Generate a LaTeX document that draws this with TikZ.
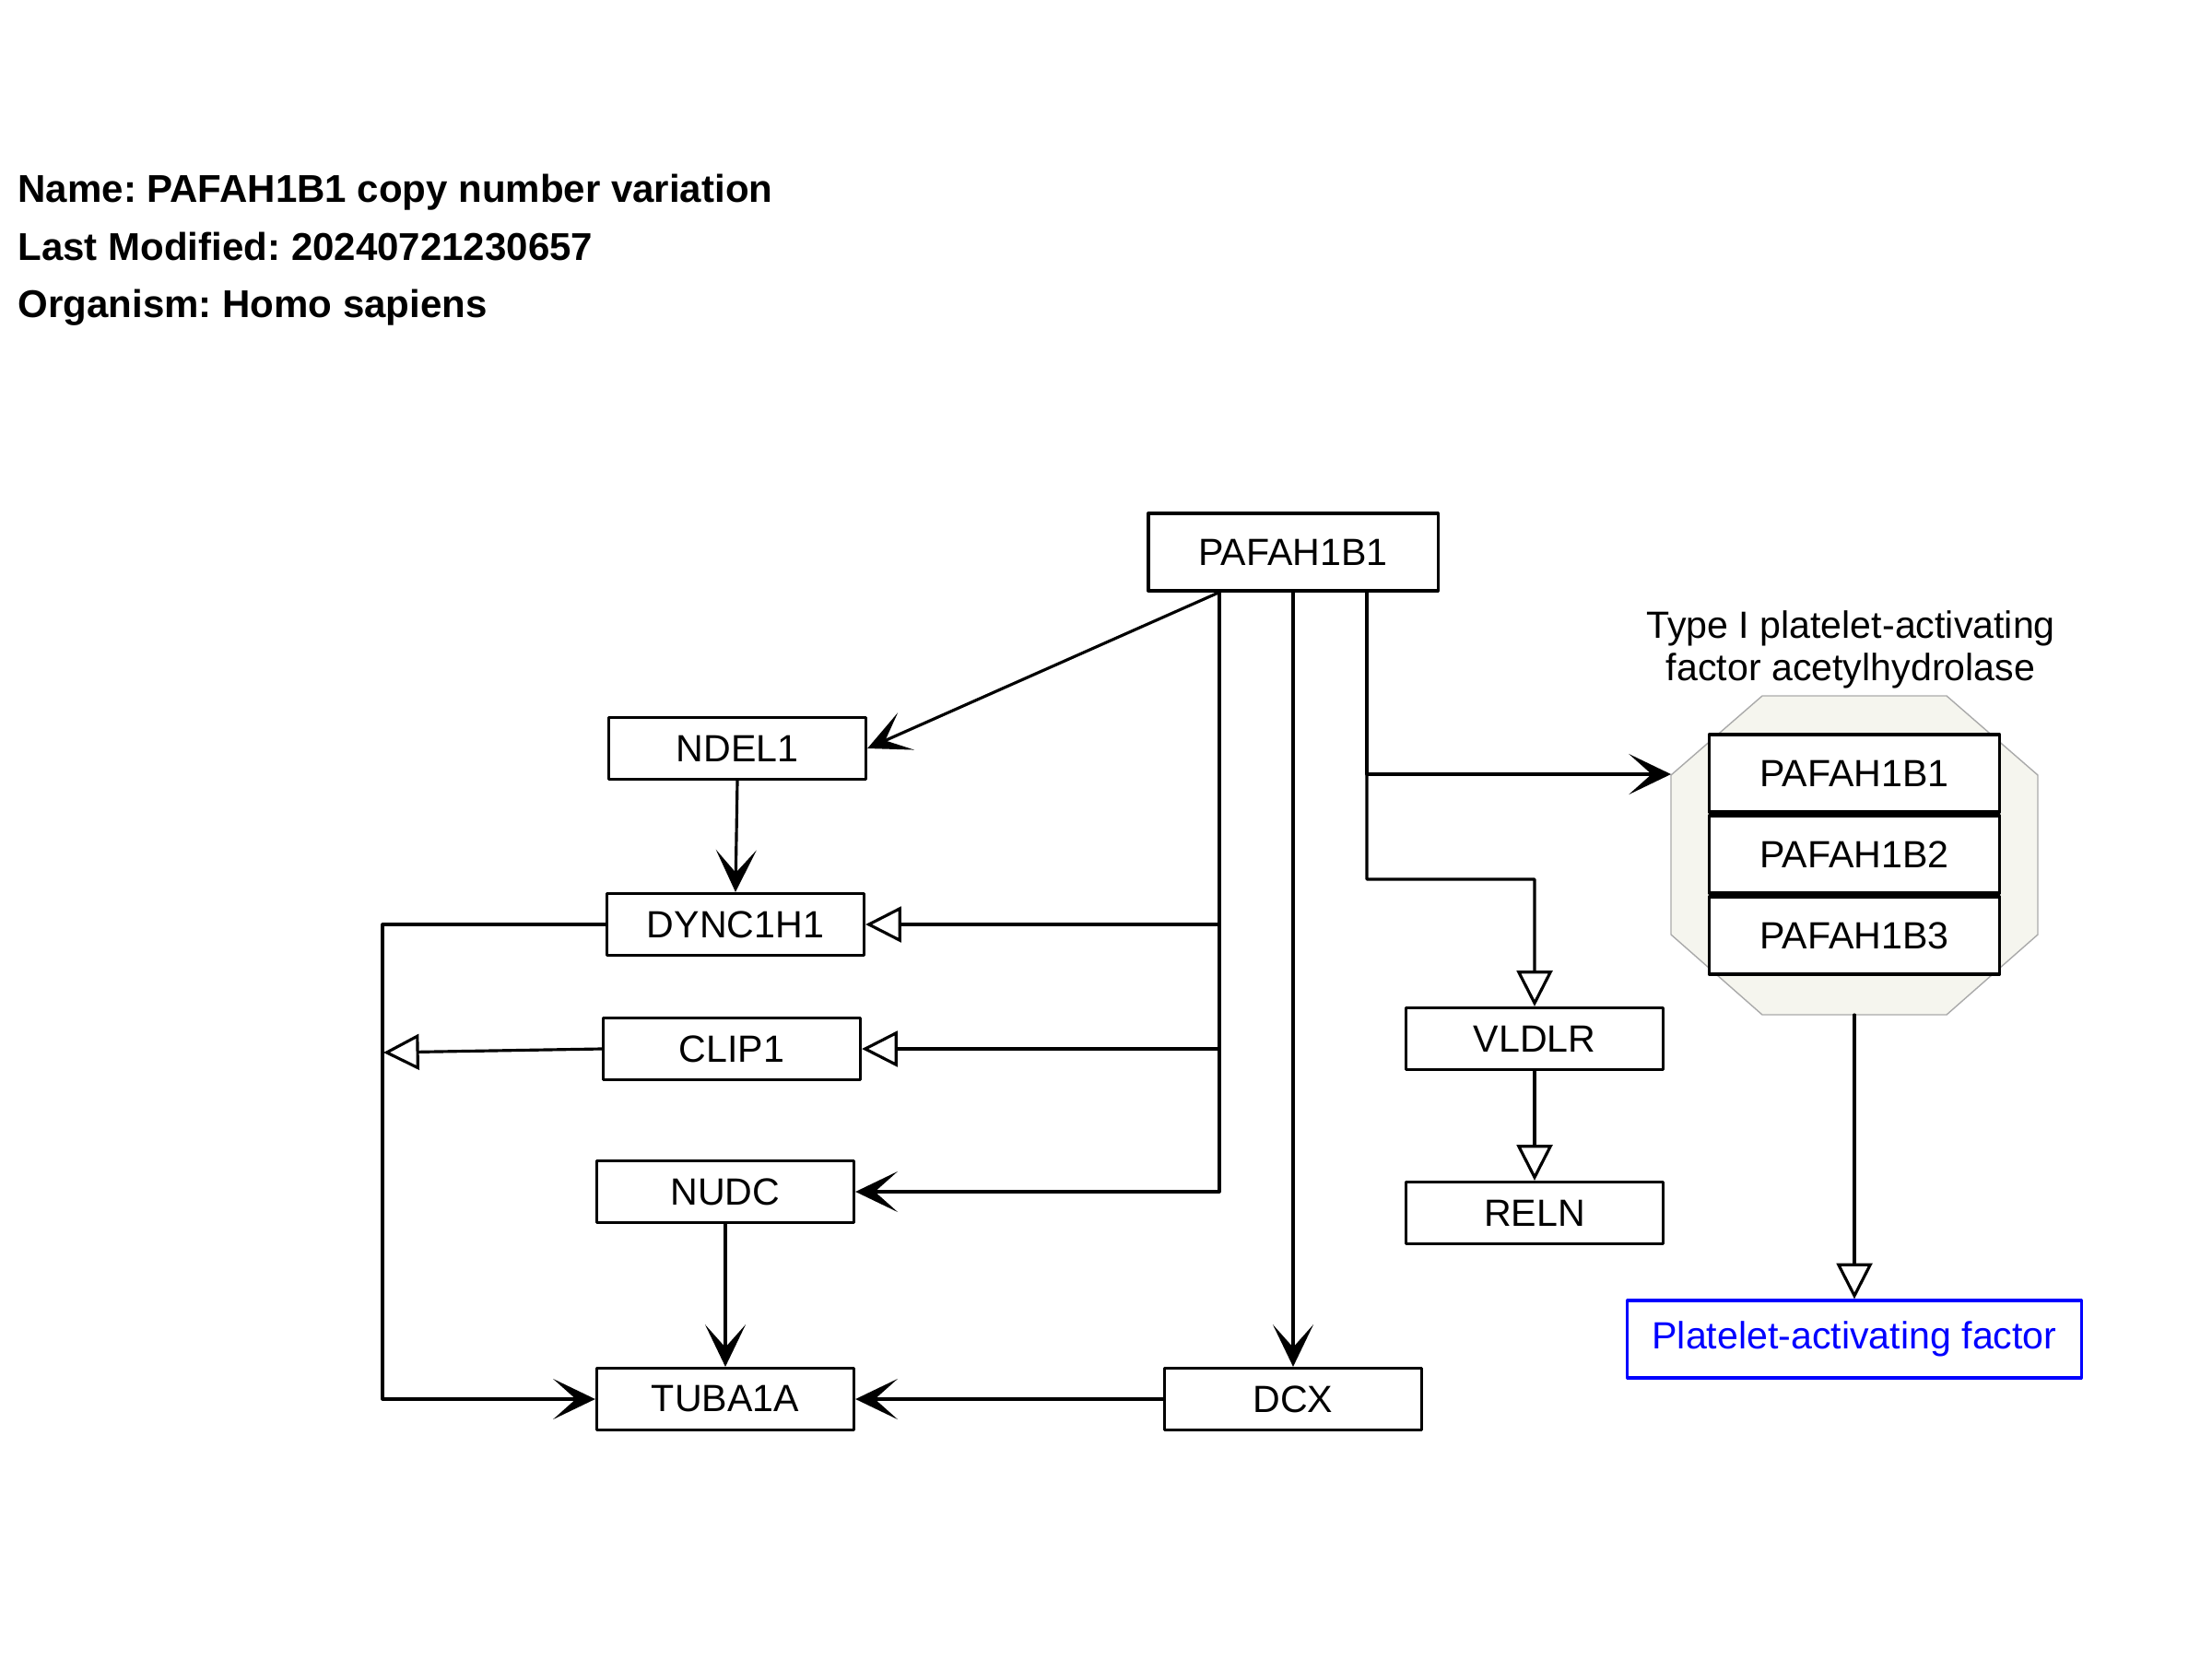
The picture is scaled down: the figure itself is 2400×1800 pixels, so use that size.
\documentclass[tikz,border=0pt]{standalone}
\usepackage{fontspec}
\setmainfont{Liberation Sans}
\usetikzlibrary{arrows.meta}
\definecolor{grpfill}{RGB}{245,245,238}
\definecolor{grpline}{RGB}{170,170,170}
\frenchspacing

\begin{document}
\begin{tikzpicture}[line cap=round, line join=round, x=0.01cm, y=-0.01cm,
		font=\fontsize{11.7}{13.2}\selectfont, line width=0.9pt,
		gene/.style={draw, fill=white, minimum width=2.79cm, minimum height=0.67cm, inner sep=0pt},
		member/.style={draw, fill=white, line width=1pt, minimum width=3.15cm, minimum height=0.84cm, inner sep=0pt},
		title/.style={anchor=base west, inner sep=0pt, font=\fontsize{11.95}{14}\selectfont\bfseries},
		arr/.style={-{Stealth[length=13pt, width=12.5pt, inset=7pt]}},
		tri/.style={-{Triangle[open, length=11pt, width=11pt]}}]
	% Khung hinh (pixel cua anh goc)
	\useasboundingbox (0,0) rectangle (2400,1800);
	
	% Thong tin chung
	\node[title] (tname) at (18,219) {Name: PAFAH1B1 copy number variation};
	\node[title] (tdate) at (18,282) {Last Modified: 20240721230657};
	\node[title] (torg) at (18,344) {Organism: Homo sapiens};
	
	% Nhom Type I (hinh bat giac)
	\filldraw[fill=grpfill, draw=grpline, line width=0.4pt]
	(1912,755) -- (2112,755) -- (2211,841) -- (2211,1014) -- (2112,1101)
	-- (1912,1101) -- (1813,1014) -- (1813,841) -- cycle;
	\coordinate (grpW) at (1813,840);
	\coordinate (grpS) at (2012,1101);
	\node[align=center, inner sep=0pt] (grplabel) at (2008,705) {Type I platelet-activating\\ factor acetylhydrolase};
	\node[member] (m1) at (2012,839) {PAFAH1B1};
	\node[member] (m2) at (2012,927) {PAFAH1B2};
	\node[member] (m3) at (2012,1015) {PAFAH1B3};
	
	% Cac gen
	\node[gene, minimum width=3.14cm, minimum height=0.84cm] (pafah) at (1403,599) {PAFAH1B1};
	\node[gene] (ndel) at (800,812) {NDEL1};
	\node[gene] (dync) at (798,1003) {DYNC1H1};
	\node[gene] (clip) at (794,1138) {CLIP1};
	\node[gene] (nudc) at (787,1293) {NUDC};
	\node[gene] (tuba) at (787,1518) {TUBA1A};
	\node[gene] (dcx) at (1403,1518) {DCX};
	\node[gene] (vldlr) at (1665,1127) {VLDLR};
	\node[gene] (reln) at (1665,1316) {RELN};
	\node[gene, draw=blue, text=blue, minimum width=4.92cm, minimum height=0.84cm] (paf) at (2012,1453) {Platelet-activating factor};
	
	% Diem gay khuc
	\coordinate (vTurn) at (1483,954);
	\coordinate (busBot) at (415,1518);
	\coordinate (clipHit) at (416,1142);
	
	% Cac mui ten tu PAFAH1B1
	\draw[arr] ([xshift=-0.8cm]pafah.south) -- (ndel.east);
	\draw[tri] ([xshift=-0.8cm]pafah.south) |- (dync.east);
	\draw[tri] ([xshift=-0.8cm]pafah.south) |- (clip.east);
	\draw[arr] ([xshift=-0.8cm]pafah.south) |- (nudc.east);
	\draw[arr] (pafah.south) -- (dcx.north);
	\draw[arr] ([xshift=0.8cm]pafah.south) |- (grpW);
	\draw[tri] ([xshift=0.8cm]pafah.south) -- (vTurn) -| (vldlr.north);
	
	% Cac mui ten con lai
	\draw[arr] (ndel.south) -- (dync.north);
	\draw[arr] (dync.west) -| (busBot) -- (tuba.west);
	\draw[tri] (clip.west) -- (clipHit);
	\draw[arr] (nudc.south) -- (tuba.north);
	\draw[arr] (dcx.west) -- (tuba.east);
	\draw[tri] (vldlr.south) -- (reln.north);
	\draw[tri] (grpS) -- (paf.north);
\end{tikzpicture}
\end{document}
